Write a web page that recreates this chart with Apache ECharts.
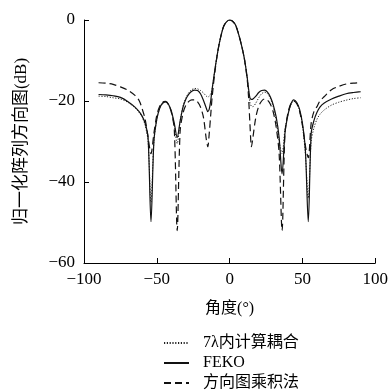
<!DOCTYPE html>
<html><head><meta charset="utf-8">
<script src="https://cdn.jsdelivr.net/npm/echarts@6/dist/echarts.min.js"></script>
<style>html,body{margin:0;padding:0;background:#fff}#c{width:391px;height:390px}</style>
</head><body><div id="c"></div>
<script>
const angles = [-90,-85,-80,-75,-70,-65,-62,-60,-58,-56,-54,-52,-50,-48,-46,-44,-42,-40,-38,-36,-34,-32,-30,-28,-26,-24,-22,-20,-18,-16,-15,-14,-13,-12,-10,-8,-6,-4,-2,0,
  2,4,6,8,10,12,13,14,15,16,18,20,22,24,26,28,30,32,34,36,38,40,42,44,46,48,50,52,54,56,58,60,62,65,70,75,80,85,90];

const coupled7 = [-18.8,-18.9,-19.2,-19.5,-20.3,-21.7,-22.9,-24,-26,-30,-45,-30,-24.5,-21.8,-20.6,-20.3,-21,-22.8,-26,-30.5,-25,-21.2,-19.2,-17.9,-17.2,-16.9,-17,-17.4,-18,-18.8,-19,-18.8,-18.2,-17,-12,-7.5,-4,-1.5,-0.4,0,
  -0.3,-1.2,-3.3,-6,-9.3,-14,-17.5,-20.5,-21.3,-21.4,-20.5,-19.2,-18.2,-17.8,-18.2,-19.4,-21.5,-25,-30,-33,-27,-23.5,-21,-20,-20.5,-22.3,-26,-33,-44,-30,-26.5,-24.5,-23.3,-22.2,-21,-20.3,-19.8,-19.4,-19.2];

const feko = [-18.4,-18.5,-18.7,-19.1,-20.1,-21.5,-22.7,-23.8,-25.5,-29,-49.8,-30,-24.5,-21.8,-20.5,-20.2,-20.8,-22.5,-25.5,-29,-25,-21.5,-19.5,-18.3,-17.6,-17.3,-17.4,-18.2,-19.8,-21.8,-22.6,-22,-20,-17,-12,-7.5,-4,-1.5,-0.4,0,
  -0.3,-1.2,-3.3,-6,-9.3,-14,-17,-19.3,-19.6,-19.5,-18.8,-17.9,-17.4,-17.3,-17.8,-19,-21,-24,-29,-38,-28,-23.5,-20.8,-19.7,-20.3,-22,-25.5,-32,-49.8,-28,-24.7,-22.8,-21.5,-20.5,-19.5,-18.8,-18.2,-17.9,-17.7];

const patternMult = [-15.5,-15.6,-15.9,-16.5,-17.3,-18.6,-20,-22,-24.5,-29,-33,-28,-23.5,-21.3,-20.3,-20.1,-20.8,-22.8,-27,-52,-27.5,-23,-21,-20.1,-19.7,-19.7,-20.2,-21.5,-24,-29.5,-31.3,-28,-23.5,-19,-12.5,-7.5,-4,-1.5,-0.4,0,
  -0.3,-1.2,-3.3,-6,-9.3,-14.5,-19,-26,-31.3,-29,-24,-21.3,-20,-19.5,-19.8,-20.8,-22.8,-26.5,-33,-52,-28,-23,-20.7,-20,-20.6,-22.5,-26,-31,-34,-25.5,-22.5,-21.4,-20,-18.9,-17.2,-16.4,-15.8,-15.6,-15.5];

const xTicks = [-100,-50,0,50,100];
const yTicks = [-60,-40,-20,0];
const seriesNames = ['7λ内计算耦合','FEKO','方向图乘积法'];

const pair = v => angles.map((a,i)=>[a,v[i]]);
const minus = v => String(v).replace('-', '\u2212');
const serif = '"Liberation Serif","DejaVu Serif","Noto Sans CJK SC",serif';

const chart = echarts.init(document.getElementById('c'), null, {renderer:'canvas'});
chart.setOption({
  animation:false,
  backgroundColor:'#fff',
  grid:{left:84,right:15,top:20,bottom:127,containLabel:false},
  xAxis:{type:'value',min:xTicks[0],max:xTicks[xTicks.length-1],interval:50,
    name:'角度(°)',nameLocation:'middle',nameGap:38,
    nameTextStyle:{fontFamily:serif,fontSize:16,color:'#000'},
    axisLine:{onZero:false,lineStyle:{color:'#000',width:1}},
    axisTick:{inside:true,length:5,lineStyle:{color:'#000'}},
    axisLabel:{formatter:minus,fontFamily:serif,fontSize:17,color:'#000',margin:8},
    splitLine:{show:false}},
  yAxis:{type:'value',min:yTicks[0],max:yTicks[yTicks.length-1],interval:20,
    name:'归一化阵列方向图(dB)',nameLocation:'middle',nameGap:54,
    nameTextStyle:{fontFamily:serif,fontSize:17,color:'#000'},
    axisLine:{show:true,onZero:false,lineStyle:{color:'#000',width:1}},
    axisTick:{show:true,inside:true,length:5,lineStyle:{color:'#000'}},
    axisLabel:{formatter:minus,fontFamily:serif,fontSize:17,color:'#000',margin:9},
    splitLine:{show:false}},
  legend:{show:true,orient:'vertical',left:158,top:330,height:60,itemWidth:25,itemHeight:12,itemGap:4,
    itemStyle:{opacity:0},
    textStyle:{fontFamily:serif,fontSize:16,color:'#000',padding:[0,0,0,9]},
    data:seriesNames},
  series:[
    {name:seriesNames[0],type:'line',data:pair(coupled7),symbol:'none',smooth:0.3,
      lineStyle:{color:'#222',width:1,type:[1.2,1.6]},itemStyle:{color:'#222'}},
    {name:seriesNames[1],type:'line',data:pair(feko),symbol:'none',smooth:0.3,
      lineStyle:{color:'#111',width:1.2,type:'solid'},itemStyle:{color:'#111'}},
    {name:seriesNames[2],type:'line',data:pair(patternMult),symbol:'none',smooth:0.3,
      lineStyle:{color:'#111',width:1.2,type:[7,4]},itemStyle:{color:'#111'}}
  ]
});
</script></body></html>
